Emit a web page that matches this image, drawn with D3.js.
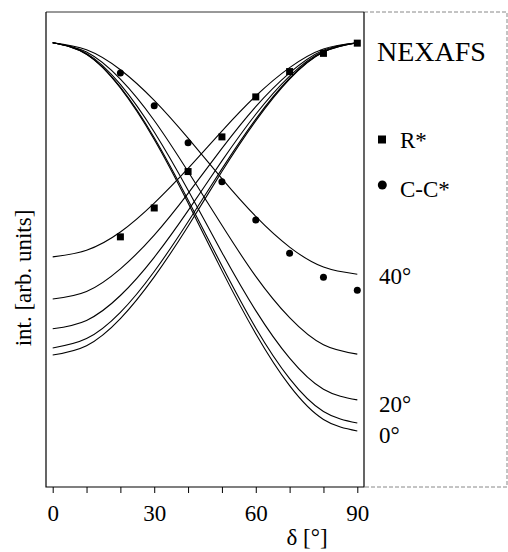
<!DOCTYPE html>
<html>
<head>
<meta charset="utf-8">
<script src="https://cdn.jsdelivr.net/npm/d3@7"></script>
<style>
body { margin: 0; background: #fff; }
text { font-family: "Liberation Serif", "Times New Roman", serif; fill: #000; }
</style>
</head>
<body>
<div id="vis"></div>
<script>
var w = 508;
var h = 552;

// meetpunten (hoek delta in graden)
var pointAngles = [20, 30, 40, 50, 60, 70, 80, 90];
var rStar = [0.563, 0.628, 0.710, 0.788, 0.878, 0.935, 0.976, 0.999];
var ccStar = [0.932, 0.858, 0.775, 0.687, 0.601, 0.526, 0.472, 0.443];

var deltas = [0, 10, 20, 30, 40, 50, 60, 70, 80, 90];
var tilts = [40, 30, 20, 10, 0];
var ccCurve40 = [1, 0.984, 0.939, 0.870, 0.785, 0.694, 0.609, 0.540, 0.495, 0.479];
var ccCurve30 = [1, 0.979, 0.918, 0.825, 0.710, 0.589, 0.474, 0.381, 0.320, 0.299];
var ccCurve20 = [1, 0.976, 0.906, 0.799, 0.668, 0.528, 0.397, 0.290, 0.220, 0.196];
var ccCurve10 = [1, 0.974, 0.900, 0.786, 0.646, 0.498, 0.358, 0.244, 0.170, 0.144];
var ccCurve0 = [1, 0.974, 0.898, 0.782, 0.639, 0.487, 0.345, 0.228, 0.152, 0.126];
var rCurve40 = [0.518, 0.533, 0.574, 0.639, 0.717, 0.801, 0.880, 0.944, 0.986, 1];
var rCurve30 = [0.423, 0.440, 0.491, 0.567, 0.661, 0.762, 0.856, 0.932, 0.983, 1];
var rCurve20 = [0.356, 0.375, 0.431, 0.517, 0.622, 0.734, 0.839, 0.925, 0.981, 1];
var rCurve10 = [0.313, 0.334, 0.393, 0.485, 0.597, 0.716, 0.828, 0.920, 0.979, 1];
var rCurve0 = [0.297, 0.318, 0.379, 0.473, 0.587, 0.710, 0.824, 0.918, 0.979, 1];

var xTicks = [0, 10, 20, 30, 40, 50, 60, 70, 80, 90];
var xTickLabels = [0, 30, 60, 90];
var tiltLabels = ["40°", "20°", "0°"];

var allCurves = [ccCurve40, ccCurve30, ccCurve20, ccCurve10, ccCurve0,
	rCurve40, rCurve30, rCurve20, rCurve10, rCurve0];

var svg = d3.select("#vis")
	.append("svg")
	.attr("width", w)
	.attr("height", h);

var x = d3.scaleLinear().domain([0, 90]).range([52.7, 357.3]);
var y = d3.scaleLinear().domain([0, 1]).range([487, 42.7]);

// kader
svg.append("path")
	.attr("d", "M364,12 H507 V487 H364")
	.attr("fill", "none")
	.attr("stroke", "#888")
	.attr("stroke-width", 1)
	.attr("stroke-dasharray", "4,2");
svg.append("line")
	.attr("x1", 46).attr("x2", 364)
	.attr("y1", 12).attr("y2", 12)
	.attr("stroke", "#333")
	.attr("stroke-width", 1);
svg.append("path")
	.attr("d", "M46,12 V487 H364 V12")
	.attr("fill", "none")
	.attr("stroke", "#000")
	.attr("stroke-width", 1.2);

// x-as
var xAxis = d3.axisBottom(x)
	.tickValues(xTicks)
	.tickSize(6)
	.tickSizeOuter(0)
	.tickFormat(function(d) { return xTickLabels.indexOf(d) >= 0 ? d : ""; });

var gx = svg.append("g")
	.attr("transform", "translate(0,487)")
	.call(xAxis);
gx.select(".domain").remove();
gx.selectAll("line").attr("stroke", "#000");
gx.selectAll("text")
	.attr("y", 34)
	.attr("dy", null)
	.style("font-size", "23px")
	.style("font-family", "'Liberation Serif', serif");

svg.append("text")
	.text("δ [°]")
	.attr("x", 307)
	.attr("y", 545)
	.attr("text-anchor", "middle")
	.style("font-size", "23px");

svg.append("text")
	.text("int. [arb. units]")
	.attr("transform", "translate(31,278) rotate(-90)")
	.attr("text-anchor", "middle")
	.style("font-size", "23px");

// curves
var line = d3.line()
	.x(function(d, i) { return x(deltas[i]); })
	.y(function(d) { return y(d); })
	.curve(d3.curveNatural);

svg.selectAll("path.curve")
	.data(allCurves)
	.enter()
	.append("path")
	.attr("class", "curve")
	.attr("d", line)
	.attr("fill", "none")
	.attr("stroke", "#000")
	.attr("stroke-width", 1.1);

// meetpunten
svg.selectAll("rect.rstar")
	.data(rStar)
	.enter()
	.append("rect")
	.attr("class", "rstar")
	.attr("x", function(d, i) { return x(pointAngles[i]) - 3.5; })
	.attr("y", function(d) { return y(d) - 3.5; })
	.attr("width", 7)
	.attr("height", 7)
	.attr("fill", "#000");

svg.selectAll("circle.ccstar")
	.data(ccStar)
	.enter()
	.append("circle")
	.attr("class", "ccstar")
	.attr("cx", function(d, i) { return x(pointAngles[i]); })
	.attr("cy", function(d) { return y(d); })
	.attr("r", 3.5)
	.attr("fill", "#000");

// legenda
svg.append("text")
	.text("NEXAFS")
	.attr("x", 377)
	.attr("y", 61)
	.style("font-size", "28px");

svg.append("rect")
	.attr("x", 378).attr("y", 135.5)
	.attr("width", 8).attr("height", 8)
	.attr("fill", "#000");
svg.append("text")
	.text("R*")
	.attr("x", 400)
	.attr("y", 148)
	.style("font-size", "23px");

svg.append("circle")
	.attr("cx", 382.3).attr("cy", 185)
	.attr("r", 4.5)
	.attr("fill", "#000");
svg.append("text")
	.text("C-C*")
	.attr("x", 400)
	.attr("y", 197)
	.style("font-size", "23px");

// hoeklabels
svg.selectAll("text.tilt")
	.data(tiltLabels)
	.enter()
	.append("text")
	.attr("class", "tilt")
	.text(function(d) { return d; })
	.attr("x", 379)
	.attr("y", function(d, i) { return [284, 412, 443][i]; })
	.style("font-size", "23px");
</script>
</body>
</html>
